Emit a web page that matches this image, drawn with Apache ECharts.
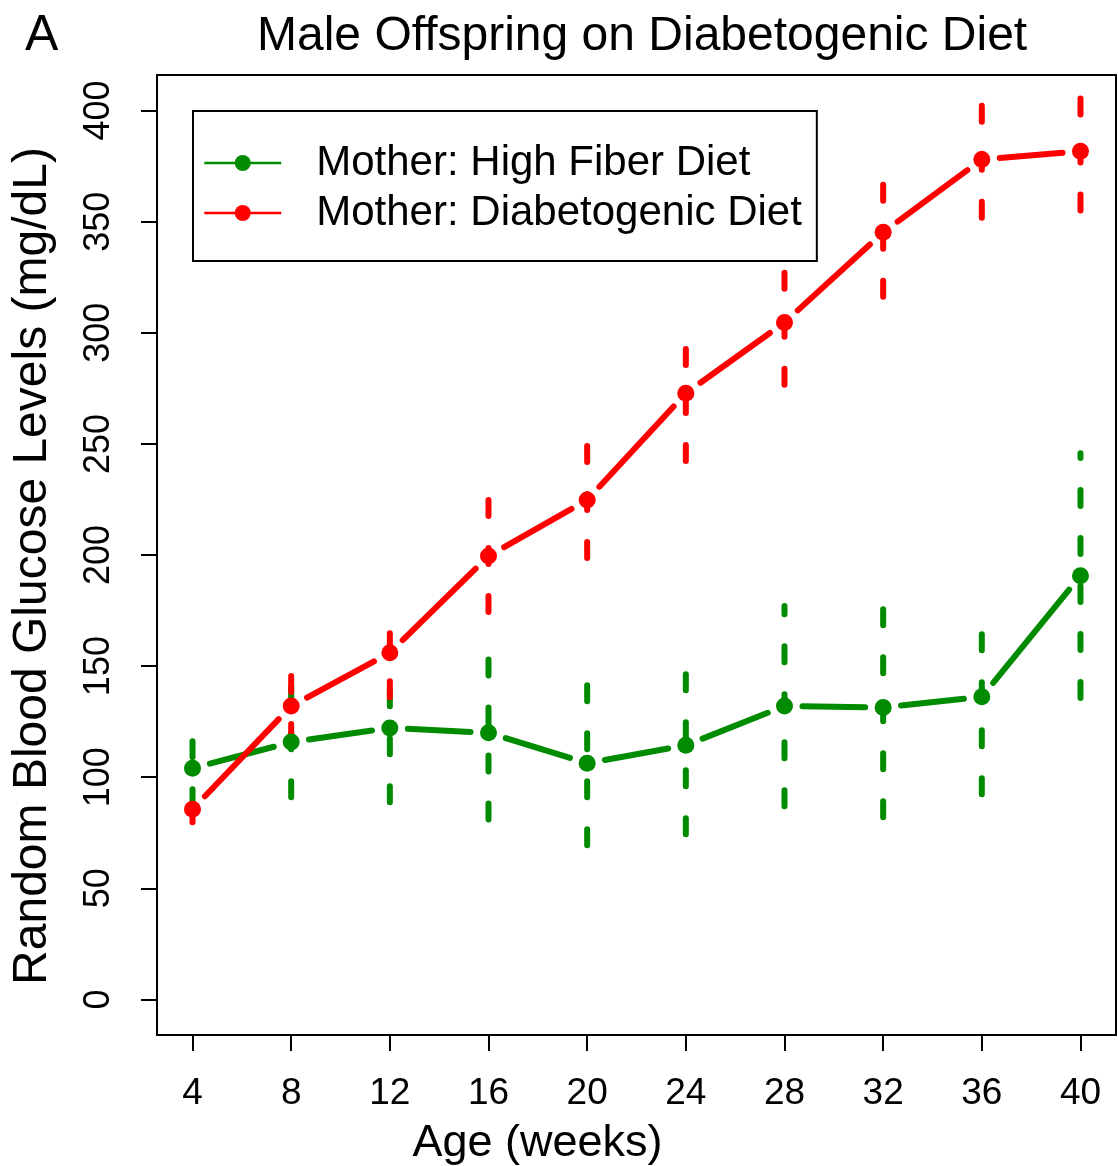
<!DOCTYPE html>
<html>
<head>
<meta charset="utf-8">
<script src="https://cdn.jsdelivr.net/npm/echarts@6/dist/echarts.min.js"></script>
<style>
html,body{margin:0;padding:0;background:#fff;}
#chart{width:1118px;height:1166px;}
</style>
</head>
<body>
<div id="chart"></div>
<script>
// ---- data ----
const weeks = [4, 8, 12, 16, 20, 24, 28, 32, 36, 40];
const fiberMean = [104, 115.8, 122.2, 120, 106.3, 114.4, 132, 131.4, 136.2, 190.7];
const fiberLow  = [87.4, 91, 88.7, 81, 69.4, 74.3, 86.9, 82, 92.3, 135.6];
const fiberHigh = [120.6, 140.6, 155.7, 159, 143, 154.5, 177.1, 180.8, 178, 245.8];
const diabMean  = [85.6, 132, 156, 199.5, 224.8, 272.8, 304.6, 345.2, 378, 381.7];
const diabLow   = [79.7, 116.7, 136, 174.3, 198.6, 242.3, 276.6, 316.2, 351.8, 355];
const diabHigh  = [91.5, 147.3, 176, 224.8, 251, 303.3, 332.6, 374.2, 404.2, 408.4];
const xTickLabels = [4, 8, 12, 16, 20, 24, 28, 32, 36, 40];
const yTickLabels = [0, 50, 100, 150, 200, 250, 300, 350, 400];
const seriesNames = ['Mother: High Fiber Diet', 'Mother: Diabetogenic Diet'];
const GREEN = '#008B00', RED = '#FF0000';
const FONT = '"Liberation Sans", Arial, Helvetica, sans-serif';

function segData(mean){
  const out = [];
  for (let i = 0; i < weeks.length - 1; i++) out.push([weeks[i], mean[i], weeks[i+1], mean[i+1]]);
  return out;
}
function barData(low, high){
  return weeks.map((w, i) => [w, low[i], high[i]]);
}
function segSeries(mean, color){
  return {
    type: 'custom', silent: true,
    data: segData(mean),
    encode: {x: [0, 2], y: [1, 3]},
    renderItem: function(params, api){
      const p0 = api.coord([api.value(0), api.value(1)]);
      const p1 = api.coord([api.value(2), api.value(3)]);
      const dx = p1[0] - p0[0], dy = p1[1] - p0[1];
      const len = Math.sqrt(dx*dx + dy*dy);
      const gap = 18;
      if (len <= 2*gap) return null;
      const ux = dx/len, uy = dy/len;
      return {
        type: 'line',
        shape: {x1: p0[0] + ux*gap, y1: p0[1] + uy*gap, x2: p1[0] - ux*gap, y2: p1[1] - uy*gap},
        style: {stroke: color, lineWidth: 6, lineCap: 'round'}
      };
    }
  };
}
function errSeries(low, high, color){
  return {
    type: 'custom', silent: true,
    data: barData(low, high),
    encode: {x: 0, y: [1, 2]},
    renderItem: function(params, api){
      const p0 = api.coord([api.value(0), api.value(1)]);
      const p1 = api.coord([api.value(0), api.value(2)]);
      return {
        type: 'line',
        shape: {x1: p0[0], y1: p0[1], x2: p1[0], y2: p1[1]},
        style: {stroke: color, lineWidth: 6, lineCap: 'round', lineDash: [16, 32]}
      };
    }
  };
}
function pointSeries(name, mean, color){
  return {
    name: name, type: 'line',
    data: weeks.map((w, i) => [w, mean[i]]),
    symbol: 'circle', symbolSize: 17, showSymbol: true,
    itemStyle: {color: color},
    lineStyle: {color: color, width: 0, opacity: 0},
    animation: false
  };
}

const chart = echarts.init(document.getElementById('chart'), null, {renderer: 'canvas'});
chart.setOption({
  animation: false,
  backgroundColor: '#fff',
  title: [
    {text: 'Male Offspring on Diabetogenic Diet', left: 252, top: 8,
     textStyle: {fontFamily: FONT, fontSize: 48, fontWeight: 'normal', color: '#000'}},
    {text: 'A', left: 20, top: 6,
     textStyle: {fontFamily: FONT, fontSize: 50, fontWeight: 'normal', color: '#000'}}
  ],
  legend: {
    orient: 'vertical', left: 193, top: 111,
    data: seriesNames,
    itemWidth: 77, itemHeight: 20, itemGap: 0,
    padding: [27, 15, 23, 10],
    borderColor: '#000', borderWidth: 2,
    selectedMode: false,
    lineStyle: {width: 2.5, opacity: 1},
    textStyle: {fontFamily: FONT, fontSize: 42, color: '#000', lineHeight: 50, padding: [0, 0, 0, 30]}
  },
  grid: {left: 157, right: 2, top: 75, bottom: 131, show: true, borderColor: '#000', borderWidth: 2,
         containLabel: false, outerBoundsMode: 'none'},
  xAxis: {
    type: 'value', min: 2.56, max: 41.44,
    name: 'Age (weeks)', nameLocation: 'middle', nameGap: 86,
    nameTextStyle: {fontFamily: FONT, fontSize: 45, color: '#000', padding: [0, 198, 0, 0]},
    axisLine: {show: false, onZero: false},
    axisTick: {show: true, length: 16, customValues: xTickLabels, lineStyle: {color: '#000', width: 2}},
    axisLabel: {customValues: xTickLabels, margin: 40, fontFamily: FONT, fontSize: 37, color: '#000'},
    splitLine: {show: false}
  },
  yAxis: {
    type: 'value', min: -16, max: 416,
    name: 'Random Blood Glucose Levels (mg/dL)', nameLocation: 'middle', nameGap: 100, nameRotate: 90,
    nameTextStyle: {fontFamily: FONT, fontSize: 48, color: '#000', padding: [0, 22, 0, 0]},
    axisLine: {show: false, onZero: false},
    axisTick: {show: true, length: 16, customValues: yTickLabels, lineStyle: {color: '#000', width: 2}},
    axisLabel: {customValues: yTickLabels, rotate: 90, margin: 40, fontFamily: FONT, fontSize: 36, color: '#000'},
    splitLine: {show: false}
  },
  series: [
    segSeries(fiberMean, GREEN),
    errSeries(fiberLow, fiberHigh, GREEN),
    pointSeries(seriesNames[0], fiberMean, GREEN),
    segSeries(diabMean, RED),
    errSeries(diabLow, diabHigh, RED),
    pointSeries(seriesNames[1], diabMean, RED)
  ]
});
</script>
</body>
</html>
